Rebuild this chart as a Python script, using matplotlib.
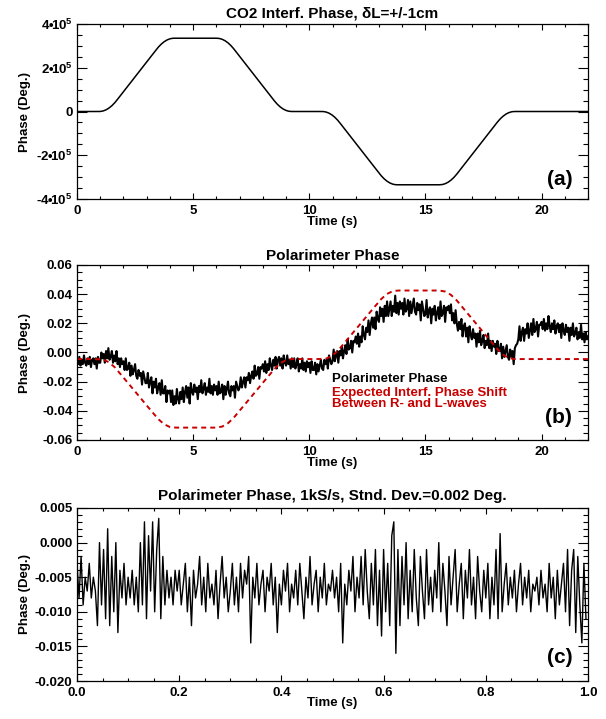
import numpy as np
import matplotlib
matplotlib.use("Agg")
import matplotlib.pyplot as plt
from matplotlib.ticker import MultipleLocator, FixedLocator, FuncFormatter

plt.rcParams.update({
    "font.family": ["Liberation Sans", "DejaVu Sans"],
    "font.weight": "bold",
    "axes.unicode_minus": False,
    "mathtext.fontset": "custom",
    "mathtext.rm": "Liberation Sans:bold",
    "mathtext.bf": "Liberation Sans:bold",
    "mathtext.it": "Liberation Sans:bold:italic",
    "mathtext.default": "rm",
    "lines.scale_dashes": False,
})

# ---------------- data ----------------
# (a) CO2 interferometer phase, units of 1e5 deg
interf_time = [0, 0.75, 1.0, 1.125, 1.25, 1.375, 1.5, 1.625, 1.75, 2.0, 2.25, 2.5, 2.75,
               3.0, 3.25, 3.5, 3.625, 3.75, 3.875, 4.0, 4.125, 4.25, 6.0, 6.125, 6.25,
               6.375, 6.5, 6.625, 6.75, 7.0, 7.25, 7.5, 7.75, 8.0, 8.25, 8.5, 8.625, 8.75,
               8.875, 9.0, 9.125, 9.25, 10.35, 10.6, 10.725, 10.85, 10.975, 11.1, 11.225,
               11.35, 11.6, 11.85, 12.1, 12.35, 12.6, 12.85, 13.1, 13.225, 13.35, 13.475,
               13.6, 13.725, 13.85, 15.6, 15.725, 15.85, 15.975, 16.1, 16.225, 16.35, 16.6,
               16.85, 17.1, 17.35, 17.6, 17.85, 18.1, 18.225, 18.35, 18.475, 18.6, 18.725,
               18.85, 22.0]
interf_phase_1e5 = [0, 0, 0.0014, 0.0247, 0.076, 0.156, 0.264, 0.4007, 0.564, 0.904, 1.244,
                    1.584, 1.924, 2.264, 2.604, 2.940, 3.078, 3.188, 3.2695, 3.323, 3.348,
                    3.35, 3.35, 3.3394, 3.301, 3.234, 3.139, 3.015, 2.863, 2.523, 2.183,
                    1.843, 1.503, 1.163, 0.823, 0.483, 0.3316, 0.209, 0.1142, 0.048, 0.01,
                    0, 0, -0.0014, -0.0247, -0.076, -0.156, -0.264, -0.4007, -0.564, -0.904,
                    -1.244, -1.584, -1.924, -2.264, -2.604, -2.940, -3.078, -3.188, -3.2695,
                    -3.323, -3.348, -3.35, -3.35, -3.3394, -3.301, -3.234, -3.139, -3.015,
                    -2.863, -2.523, -2.183, -1.843, -1.503, -1.163, -0.823, -0.483, -0.3316,
                    -0.209, -0.1142, -0.048, -0.01, 0, 0]

# (b) expected interferometric phase shift between R- and L-waves, deg
expected_time = [0, 0.75, 1.125, 1.375, 1.625, 2.0, 2.5, 3.0, 3.25, 3.5, 3.75, 4.0, 4.25,
                 6.0, 6.25, 6.5, 6.75, 7.0, 7.5, 8.0, 8.5, 8.75, 9.0, 9.25, 10.35, 10.725,
                 10.975, 11.225, 11.6, 12.1, 12.6, 12.85, 13.1, 13.35, 13.6, 13.85, 15.6,
                 15.85, 16.1, 16.35, 16.6, 17.1, 17.6, 18.1, 18.35, 18.6, 18.85, 22.0]
expected_phase = [-0.0045, -0.0045, -0.0048, -0.0067, -0.0101, -0.0172, -0.0267, -0.0363,
                  -0.0410, -0.0457, -0.0492, -0.0511, -0.0515, -0.0515, -0.0508, -0.0485,
                  -0.0447, -0.0399, -0.0304, -0.0208, -0.0113, -0.0074, -0.0052, -0.0045,
                  -0.0045, -0.0042, -0.0023, 0.0011, 0.0082, 0.0177, 0.0273, 0.0320, 0.0367,
                  0.0402, 0.0421, 0.0425, 0.0425, 0.0418, 0.0395, 0.0357, 0.0309, 0.0214,
                  0.0118, 0.0023, -0.0016, -0.0038, -0.0045, -0.0045]

# (b) measured polarimeter phase, millidegrees, sampled every pol_dt seconds
pol_dt = 0.05
pol_phase_mdeg = [
    -4, -8, -3, -9, -5, -8, -2, -7, -9, -4, -8, -3, -10, -5, -4, -8, -4, -11, -3, -7,
    -7, 0, -4, -1, -7, 1, -4, 3, -5, -3, 1, -7, -2, -6, 1, -8, -4, -10, -4, -8,
    -6, -12, -4, -12, -11, -7, -16, -9, -15, -12, -8, -16, -18, -12, -16, -14, -22, -13, -17, -21,
    -21, -14, -24, -20, -17, -28, -20, -24, -18, -28, -24, -21, -29, -19, -28, -28, -23, -34, -26, -28,
    -26, -34, -26, -36, -30, -35, -25, -32, -35, -27, -32, -24, -34, -27, -23, -31, -24, -35, -21, -27,
    -29, -22, -27, -24, -32, -23, -27, -19, -28, -25, -21, -29, -24, -27, -18, -28, -23, -29, -22, -26,
    -23, -29, -20, -28, -27, -22, -32, -23, -29, -25, -20, -28, -30, -23, -26, -23, -31, -20, -23, -26,
    -24, -17, -24, -20, -17, -24, -17, -19, -14, -21, -16, -13, -18, -9, -16, -15, -10, -18, -10, -11,
    -8, -13, -6, -14, -8, -12, -4, -9, -12, -5, -9, -3, -11, -5, -3, -9, -4, -11, -2, -7,
    -9, -2, -8, -5, -11, -4, -10, -4, -11, -8, -4, -13, -8, -11, -4, -12, -7, -13, -6, -10,
    -7, -14, -6, -12, -12, -7, -15, -8, -13, -9, -5, -11, -12, -5, -8, -5, -11, -2, -5, -8,
    -6, 2, -6, -2, 1, -7, 1, -2, 4, -4, 1, 5, -1, 9, 2, 3, 8, 0, 8, 7,
    11, 6, 13, 4, 11, 7, 18, 12, 9, 17, 14, 22, 12, 20, 24, 17, 24, 16, 28, 23,
    21, 31, 25, 30, 21, 32, 25, 35, 25, 30, 35, 25, 32, 28, 39, 27, 34, 26, 35, 30,
    34, 26, 37, 28, 30, 36, 25, 35, 27, 32, 37, 28, 26, 34, 29, 33, 22, 35, 30, 25,
    26, 36, 24, 29, 31, 20, 30, 26, 32, 22, 27, 31, 23, 35, 25, 27, 32, 21, 31, 29,
    32, 27, 33, 22, 27, 20, 29, 20, 15, 21, 16, 23, 11, 18, 20, 11, 17, 7, 18, 12,
    9, 16, 10, 13, 4, 13, 7, 15, 5, 8, 12, 3, 8, 5, 13, 3, 8, 1, 8, 4,
    6, -1, 8, 1, 1, 6, -4, 4, -3, 1, 5, -3, -5, 2, -3, 1, -8, 3, 5, 6,
    9, 18, 8, 14, 17, 8, 16, 13, 20, 10, 15, 20, 12, 23, 14, 16, 21, 11, 19, 19,
    21, 16, 23, 15, 20, 16, 25, 18, 14, 20, 16, 22, 13, 18, 20, 14, 19, 10, 20, 15,
    12, 19, 14, 17, 8, 17, 12, 20, 11, 13, 17, 9, 14, 10, 19, 9, 13, 7, 14, 9,
    11,
]

# (c) one second of polarimeter phase, millidegrees, sampled every fast_dt seconds
fast_dt = 0.004
fast_phase_mdeg = [
    -3, -8, -2, -9, -5, -7, -3, -8, -5, -7, -12, 0, -9, -1, -11, 2, -12, -2, -10, 0, -13, -4, -8, -3, -9,
    -5, -8, -4, -9, -5, -10, 0, -9, 3, -11, 1, -7, 3, -10, -1, 3.5, -11, -2, -9, -4, -8, -5, -9, -4, -7,
    -4, -9, -6, -3, -10, -5, -12, -4, -8, -6, -2, -9, -5, -10, -3, -8, -6, -9, -4, -11, -6, -2, -8, -5, -10,
    -7, -3, -9, -5, -10, -3, -8, -4, -6, -2, -14.5, -5, -8, -3, -9, -6, -4, -10, -5, -7, -3, -9, -5, -13, -6,
    -9, -4, -7, -3, -10, -6, -8, -4, -9, -3, -7, -11, -5, -8, -2, -9, -6, -4, -10, -5, -8, -3, -9, -6, -7,
    -4, -8, -5, -10, -3, -14.5, -6, -9, -4, -7, -2, -10, -5, -8, -2, -9, -1, -7, -11, -3, -9, -1, -12, -4, -13.5,
    -1, -10, -3, -12, 1, 3, -16, -1, -12, -2, -9, 0, -11, -4, -10, -1, -8, -12, -2, -7, -11, -1, -9, -5, -10,
    -4, -8, 0, -10, -3, -7, -12, -2, -9, -5, -1, -10, -6, -3, -11, -4, -8, -1, -9, -5, -11, -2, -7, -10, -4,
    -8, -3, -11, -5, -9, -1, -11, 1.3, -10, -6, -3, -9, -5, -8, -4, -10, -6, -3, -9, -5, -8, -4, -10, -6, -7,
    -5, -9, -4, -8, -6, -10, -3, -8, -5, -11, -4, -9, -6, -3, -10, -1, -12, -4, -1, -13, -2, -9, -14.5, -3, -11,
]

titles = ["CO2 Interf. Phase, \u03b4L=+/-1cm",
          "Polarimeter Phase",
          "Polarimeter Phase, 1kS/s, Stnd. Dev.=0.002 Deg."]
panel_tags = ["(a)", "(b)", "(c)"]
legend_lines = ["Polarimeter Phase", "Expected Interf. Phase Shift", "Between R- and L-waves"]

RED = "#C80000"

# ---------------- figure ----------------
W, H = 606, 719
fig = plt.figure(figsize=(W / 100, H / 100), dpi=100)


def fx(px):
    return px / W


def fy(py):
    return 1 - py / H


left, right = 77, 588
boxes = [(24, 199), (265, 440), (508, 681)]
axes = []
for top, bot in boxes:
    ax = fig.add_axes([fx(left), fy(bot), (right - left) / W, (bot - top) / H])
    axes.append(ax)


def style(ax, xmaj, xmin, ymaj, ymin):
    ax.xaxis.set_major_locator(MultipleLocator(xmaj))
    ax.xaxis.set_minor_locator(MultipleLocator(xmin))
    if ymaj is not None:
        ax.yaxis.set_major_locator(MultipleLocator(ymaj))
    ax.yaxis.set_minor_locator(MultipleLocator(ymin))
    ax.tick_params(which="both", direction="in", top=True, right=True,
                   labelsize=9.5, width=0.8, colors="black")
    ax.tick_params(axis="y", which="major", length=7.2, pad=3.2)
    ax.tick_params(axis="y", which="minor", length=3.6)
    ax.tick_params(axis="x", which="major", length=4.3, pad=4.3)
    ax.tick_params(axis="x", which="minor", length=2.5)
    for s in ax.spines.values():
        s.set_linewidth(0.9)


# (a)
ax = axes[0]
ax.plot(interf_time, np.asarray(interf_phase_1e5) * 1e5, color="black", lw=1.1)
ax.set_xlim(0, 22)
ax.set_ylim(-4e5, 4e5)
style(ax, 5, 1, None, 0.5e5)
ax.yaxis.set_major_locator(FixedLocator([-4e5, -2e5, 0, 2e5, 4e5]))


def sci_fmt(v, pos):
    n = int(round(v / 1e5))
    if n == 0:
        return "0"
    sign = "-" if n < 0 else ""
    return sign + "$%d\u2022\\!10^{5}$" % abs(n)


ax.yaxis.set_major_formatter(FuncFormatter(sci_fmt))
ax.xaxis.set_major_formatter(FuncFormatter(lambda v, p: "%d" % round(v)))

# (b)
ax = axes[1]
t_pol = np.arange(len(pol_phase_mdeg)) * pol_dt
ax.plot(t_pol, np.asarray(pol_phase_mdeg) * 1e-3, color="black", lw=1.5)
ax.plot(expected_time, expected_phase, color=RED, lw=1.4, dashes=(3.6, 2.9))
ax.set_xlim(0, 22)
ax.set_ylim(-0.06, 0.06)
style(ax, 5, 1, 0.02, 0.005)
ax.yaxis.set_major_formatter(FuncFormatter(lambda v, p: "%.2f" % (0.0 if abs(v) < 1e-9 else v)))
ax.xaxis.set_major_formatter(FuncFormatter(lambda v, p: "%d" % round(v)))
ax.text(0.499, 0.333, legend_lines[0], transform=ax.transAxes, fontsize=9.5,
        color="black", va="baseline", ha="left")
ax.text(0.499, 0.251, legend_lines[1], transform=ax.transAxes, fontsize=9.5,
        color=RED, va="baseline", ha="left")
ax.text(0.499, 0.189, legend_lines[2], transform=ax.transAxes, fontsize=9.5,
        color=RED, va="baseline", ha="left")

# (c)
ax = axes[2]
t_fast = np.arange(len(fast_phase_mdeg)) * fast_dt
ax.plot(t_fast, np.asarray(fast_phase_mdeg) * 1e-3, color="black", lw=1.0)
ax.set_xlim(0, 1)
ax.set_ylim(-0.020, 0.005)
style(ax, 0.2, 0.05, 0.005, 0.001)
ax.yaxis.set_major_formatter(FuncFormatter(lambda v, p: "%.3f" % (0.0 if abs(v) < 1e-9 else v)))
ax.xaxis.set_major_formatter(FuncFormatter(lambda v, p: "%.1f" % v))

# panel decorations
title_base = [17, 259.5, 500]
xlabel_top = [216, 457, 697]
tag_y = [0.078, 0.095, 0.104]
cx = (left + right) / 2
for i, (ax, (top, bot)) in enumerate(zip(axes, boxes)):
    fig.text(fx(cx), fy(title_base[i]), titles[i], ha="center", va="baseline", fontsize=11)
    fig.text(fx(cx), fy(xlabel_top[i]), "Time (s)", ha="center", va="top", fontsize=9.5)
    fig.text(fx(25), fy((top + bot) / 2), "Phase (Deg.)", rotation=90,
             ha="center", va="center", fontsize=9.5)
    ax.text(0.969, tag_y[i], panel_tags[i], transform=ax.transAxes, ha="right",
            va="baseline", fontsize=15)

fig.savefig("out.png", dpi=100)
